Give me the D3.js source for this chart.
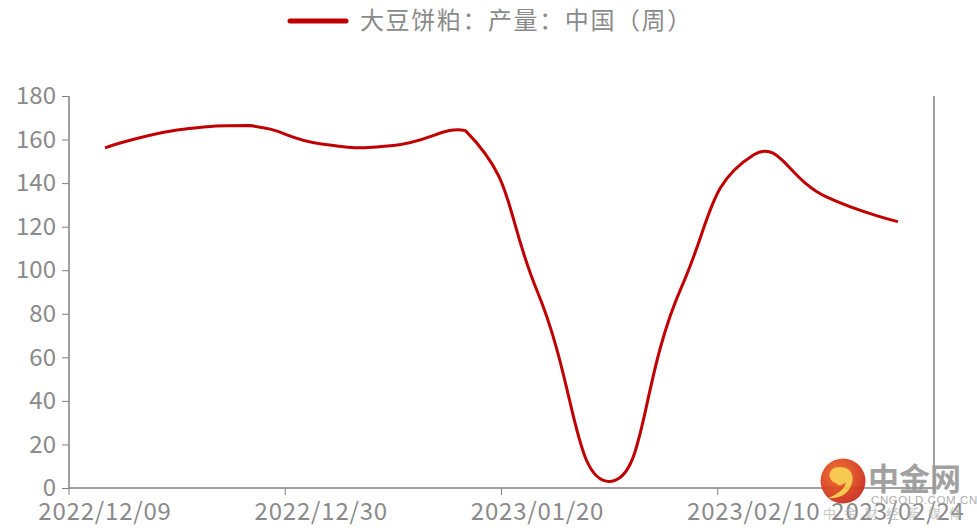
<!DOCTYPE html>
<html>
<head>
<meta charset="utf-8">
<script src="https://cdn.jsdelivr.net/npm/d3@7"></script>
<style>
  body { margin: 0; background: #fff; }
  svg { display: block; }
</style>
</head>
<body>
<div id="chart"></div>
<script>
// Data
var dates = ["2022/12/09", "2022/12/16", "2022/12/23", "2022/12/30", "2023/01/06", "2023/01/13",
             "2023/01/20", "2023/01/27", "2023/02/03", "2023/02/10", "2023/02/17", "2023/02/24"];
var values = [156.2, 164.4, 166.4, 158, 157.3, 164.1, 90, 3, 92.5, 153, 133.8, 122.3];
var yTicks = [0, 20, 40, 60, 80, 100, 120, 140, 160, 180];
var xLabels = ["2022/12/09", "2022/12/30", "2023/01/20", "2023/02/10", "2023/02/24"];
var xTickDates = ["2022/12/09", "2022/12/30", "2023/01/20", "2023/02/10"];
var seriesName = "大豆饼粕：产量：中国（周）";

// Svg dimensions
const width = 977;
const height = 531;
var plot = {left: 69, right: 934, top: 96, bottom: 488};

var axisColor = "#808080";
var labelColor = "#8a8a8a";
var lineColor = "#c00000";
var font = "'Noto Sans CJK SC', 'Noto Sans', sans-serif";

var svg = d3.select("#chart")
            .append("svg")
                .attr("width", width)
                .attr("height", height);

// Scales
var scaleX = d3.scaleBand()
                .domain(dates)
                .range([plot.left, plot.right])
                .padding(0);

var scaleY = d3.scaleLinear()
                .domain([0, 180])
                .range([plot.bottom, plot.top]);

// Y axis
var axisY = svg.append("g")
                .attr("transform", "translate(" + plot.left + ",0)")
                .call(d3.axisLeft(scaleY).tickValues(yTicks).tickSize(7).tickPadding(6));

// X axis (labels centred on bands, ticks on band edges)
var axisX = svg.append("g")
                .attr("transform", "translate(0," + plot.bottom + ")")
                .call(d3.axisBottom(scaleX).tickValues(xLabels).tickSize(0).tickPadding(15));

axisX.selectAll(".tick-edge")
    .data(xTickDates.map(function(d) { return scaleX(d); }).concat([scaleX.range()[1]]))
    .enter()
    .append("line")
        .attr("class", "tick-edge")
        .attr("x1", function(d) { return d; })
        .attr("x2", function(d) { return d; })
        .attr("y1", 0)
        .attr("y2", 7)
        .attr("stroke", axisColor);

// Right border line
svg.append("line")
    .attr("x1", plot.right).attr("x2", plot.right)
    .attr("y1", scaleY(180)).attr("y2", plot.bottom)
    .attr("stroke", axisColor)
    .attr("stroke-width", 1.5);

[axisX, axisY].forEach(function(ax) {
    ax.select(".domain").attr("stroke", axisColor).attr("stroke-width", 1.5);
    ax.selectAll(".tick line").attr("stroke", axisColor);
    ax.selectAll("text")
        .attr("fill", labelColor)
        .style("font-family", font)
        .style("font-size", "24px");
});
axisX.selectAll("text").style("letter-spacing", "0.8px");
axisY.select(".domain").attr("d", "M0," + scaleY(180) + "V" + plot.bottom);
axisX.select(".domain").attr("d", "M" + plot.left + ",0H" + plot.right);

// Smooth line, same bezier rule as the original chart tool
// (control points along prev->next, kept inside the points' bounding box)
function smoothPath(pts, smooth) {
    var p = d3.path();
    var minX = d3.min(pts, function(d) { return d[0]; }), maxX = d3.max(pts, function(d) { return d[0]; });
    var minY = d3.min(pts, function(d) { return d[1]; }), maxY = d3.max(pts, function(d) { return d[1]; });
    function fit(c) {
        return [Math.max(minX, Math.min(maxX, c[0])), Math.max(minY, Math.min(maxY, c[1]))];
    }
    var cp0 = pts[0].slice();
    p.moveTo(pts[0][0], pts[0][1]);
    for (var i = 1; i < pts.length; i++) {
        var pt = pts[i], prev = pts[i - 1], next = pts[i + 1];
        var cp1, v = [0, 0], ratio = 0.5;
        if (!next) {
            cp1 = pt.slice();
        } else {
            v = [next[0] - prev[0], next[1] - prev[1]];
            var lenPrev = Math.hypot(pt[0] - prev[0], pt[1] - prev[1]);
            var lenNext = Math.hypot(next[0] - pt[0], next[1] - pt[1]);
            ratio = lenNext / (lenNext + lenPrev);
            cp1 = [pt[0] - v[0] * smooth * (1 - ratio), pt[1] - v[1] * smooth * (1 - ratio)];
        }
        cp0 = fit(cp0);
        cp1 = fit(cp1);
        p.bezierCurveTo(cp0[0], cp0[1], cp1[0], cp1[1], pt[0], pt[1]);
        cp0 = [pt[0] + v[0] * smooth * ratio, pt[1] + v[1] * smooth * ratio];
    }
    return p.toString();
}

var points = dates.map(function(d, i) {
    return [scaleX(d) + scaleX.bandwidth() / 2, scaleY(values[i])];
});

svg.append("path")
    .attr("d", smoothPath(points, 0.5))
    .attr("fill", "none")
    .attr("stroke", lineColor)
    .attr("stroke-width", 3)
    .attr("stroke-linejoin", "round");

// Legend
var legend = svg.append("g").attr("class", "legend");
legend.append("line")
    .attr("x1", 290).attr("x2", 346)
    .attr("y1", 21).attr("y2", 21)
    .attr("stroke", lineColor)
    .attr("stroke-width", 5)
    .attr("stroke-linecap", "round");
legend.append("text")
    .attr("x", 360)
    .attr("y", 21)
    .attr("dy", "0.35em")
    .attr("fill", labelColor)
    .style("font-family", font)
    .style("font-size", "24px")
    .style("letter-spacing", "1.6px")
    .text(seriesName);

// Watermark
var wm = svg.append("g").attr("class", "watermark").attr("opacity", 0.92);
var grad = svg.append("defs").append("radialGradient")
    .attr("id", "logoGrad").attr("cx", "40%").attr("cy", "35%").attr("r", "70%");
grad.append("stop").attr("offset", "0%").attr("stop-color", "#f06a1e");
grad.append("stop").attr("offset", "100%").attr("stop-color", "#c8241a");
wm.append("circle")
    .attr("cx", 843).attr("cy", 481).attr("r", 22.5)
    .attr("fill", "url(#logoGrad)");
wm.append("path")
    .attr("d", "M836,483 C826,480 828,466 840,467 C852,467 856,478 850,488 C846,495 838,499 828,498 C838,494 845,489 846,482 C842,486 838,486 836,483 Z")
    .attr("fill", "#f7c545");
wm.append("text")
    .attr("x", 868).attr("y", 490)
    .attr("fill", "#9a9a9a")
    .style("font-family", font)
    .style("font-weight", "bold")
    .style("font-size", "31px")
    .text("中金网");
wm.append("text")
    .attr("x", 871).attr("y", 504)
    .attr("fill", "#a8a8a8")
    .style("font-family", "'Liberation Sans', sans-serif")
    .style("font-size", "11.5px")
    .style("letter-spacing", "0.6px")
    .text("CNGOLD.COM.CN");
wm.append("text")
    .attr("x", 823).attr("y", 518)
    .attr("fill", "#b4b4b4")
    .attr("opacity", 0.8)
    .style("font-family", font)
    .style("font-size", "13px")
    .style("letter-spacing", "8px")
    .text("中金财经新媒体");
</script>
</body>
</html>
